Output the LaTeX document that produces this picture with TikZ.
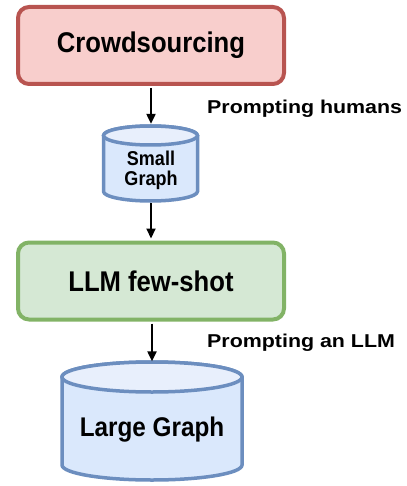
\documentclass[tikz,border=0pt]{standalone}
\usepackage{fontspec}
\setmainfont{Liberation Sans}
\newfontfamily\boxfont{Liberation Sans}[FakeStretch=0.9]
\newfontfamily\sidefont{Liberation Sans}[FakeStretch=1.15]
\usetikzlibrary{arrows.meta}
\definecolor{pinkfill}{HTML}{F8CECC}
\definecolor{pinkline}{HTML}{B85450}
\definecolor{greenfill}{HTML}{D5E8D4}
\definecolor{greenline}{HTML}{82B366}
\definecolor{bluefill}{HTML}{DAE8FC}
\definecolor{bluetop}{HTML}{E8EFFC}
\definecolor{blueline}{HTML}{6C8EBF}
\begin{document}
\begin{tikzpicture}[x=1pt,y=-1pt,
  procbox/.style={draw, line width=4pt, rounded corners=11pt, minimum width=266pt, minimum height=77pt, inner sep=0pt, font=\boxfont\bfseries\fontsize{28.5}{28.5}\selectfont},
  cylbody/.style={fill=bluefill, draw=blueline, line width=3.5pt},
  cyltop/.style={fill=bluetop, draw=blueline, line width=3.5pt},
  flow/.style={line width=2.2pt, -{Triangle[width=9pt,length=10pt]}, shorten >=2pt, shorten <=2pt},
  sidelabel/.style={anchor=base west, inner sep=0pt, font=\sidefont\bfseries\fontsize{18.6}{20}\selectfont}
]
\useasboundingbox (0,0) rectangle (406,486);

% Crowdsourcing box
\node[procbox, fill=pinkfill, draw=pinkline] (crowd) at (151,45.5) {Crowdsourcing};

% Small cylinder
\filldraw[cylbody] (103.5,135.5) -- (103.5,191.5) arc[start angle=180, end angle=360, x radius=47pt, y radius=9.5pt] -- (197.5,135.5) arc[start angle=0, end angle=180, x radius=47pt, y radius=9.5pt] -- cycle;
\filldraw[cyltop] (150.5,135.5) ellipse[x radius=47pt, y radius=9.5pt];
\node[inner sep=0pt, minimum width=94pt, minimum height=75pt] (small) at (151,163.5) {};
\node[align=center, inner sep=0pt, font=\boxfont\bfseries\fontsize{20}{20}\selectfont] (smalltext) at (151,170) {Small\\Graph};

% LLM few-shot box
\node[procbox, fill=greenfill, draw=greenline] (llm) at (151,281) {LLM few-shot};

% Large cylinder
\filldraw[cylbody] (62,377) -- (62,465) arc[start angle=180, end angle=360, x radius=90pt, y radius=15pt] -- (242,377) arc[start angle=0, end angle=180, x radius=90pt, y radius=15pt] -- cycle;
\filldraw[cyltop] (152,377) ellipse[x radius=90pt, y radius=15pt];
\node[inner sep=0pt, minimum width=180pt, minimum height=117pt] (large) at (152,422) {};
\node[inner sep=0pt, font=\boxfont\bfseries\fontsize{27}{27}\selectfont] (largetext) at (152,430) {Large Graph};

% Connectors
\draw[flow] (crowd.south -| small.north) -- (small.north);
\draw[flow] (small.south) -- (small.south |- llm.north);
\draw[flow] (llm.south -| large.north) -- (large.north);

% Side labels
\node[sidelabel] (lhum) at (207,113.3) {Prompting humans};
\node[sidelabel] (lllm) at (207,347) {Prompting an LLM};
\end{tikzpicture}
\end{document}
